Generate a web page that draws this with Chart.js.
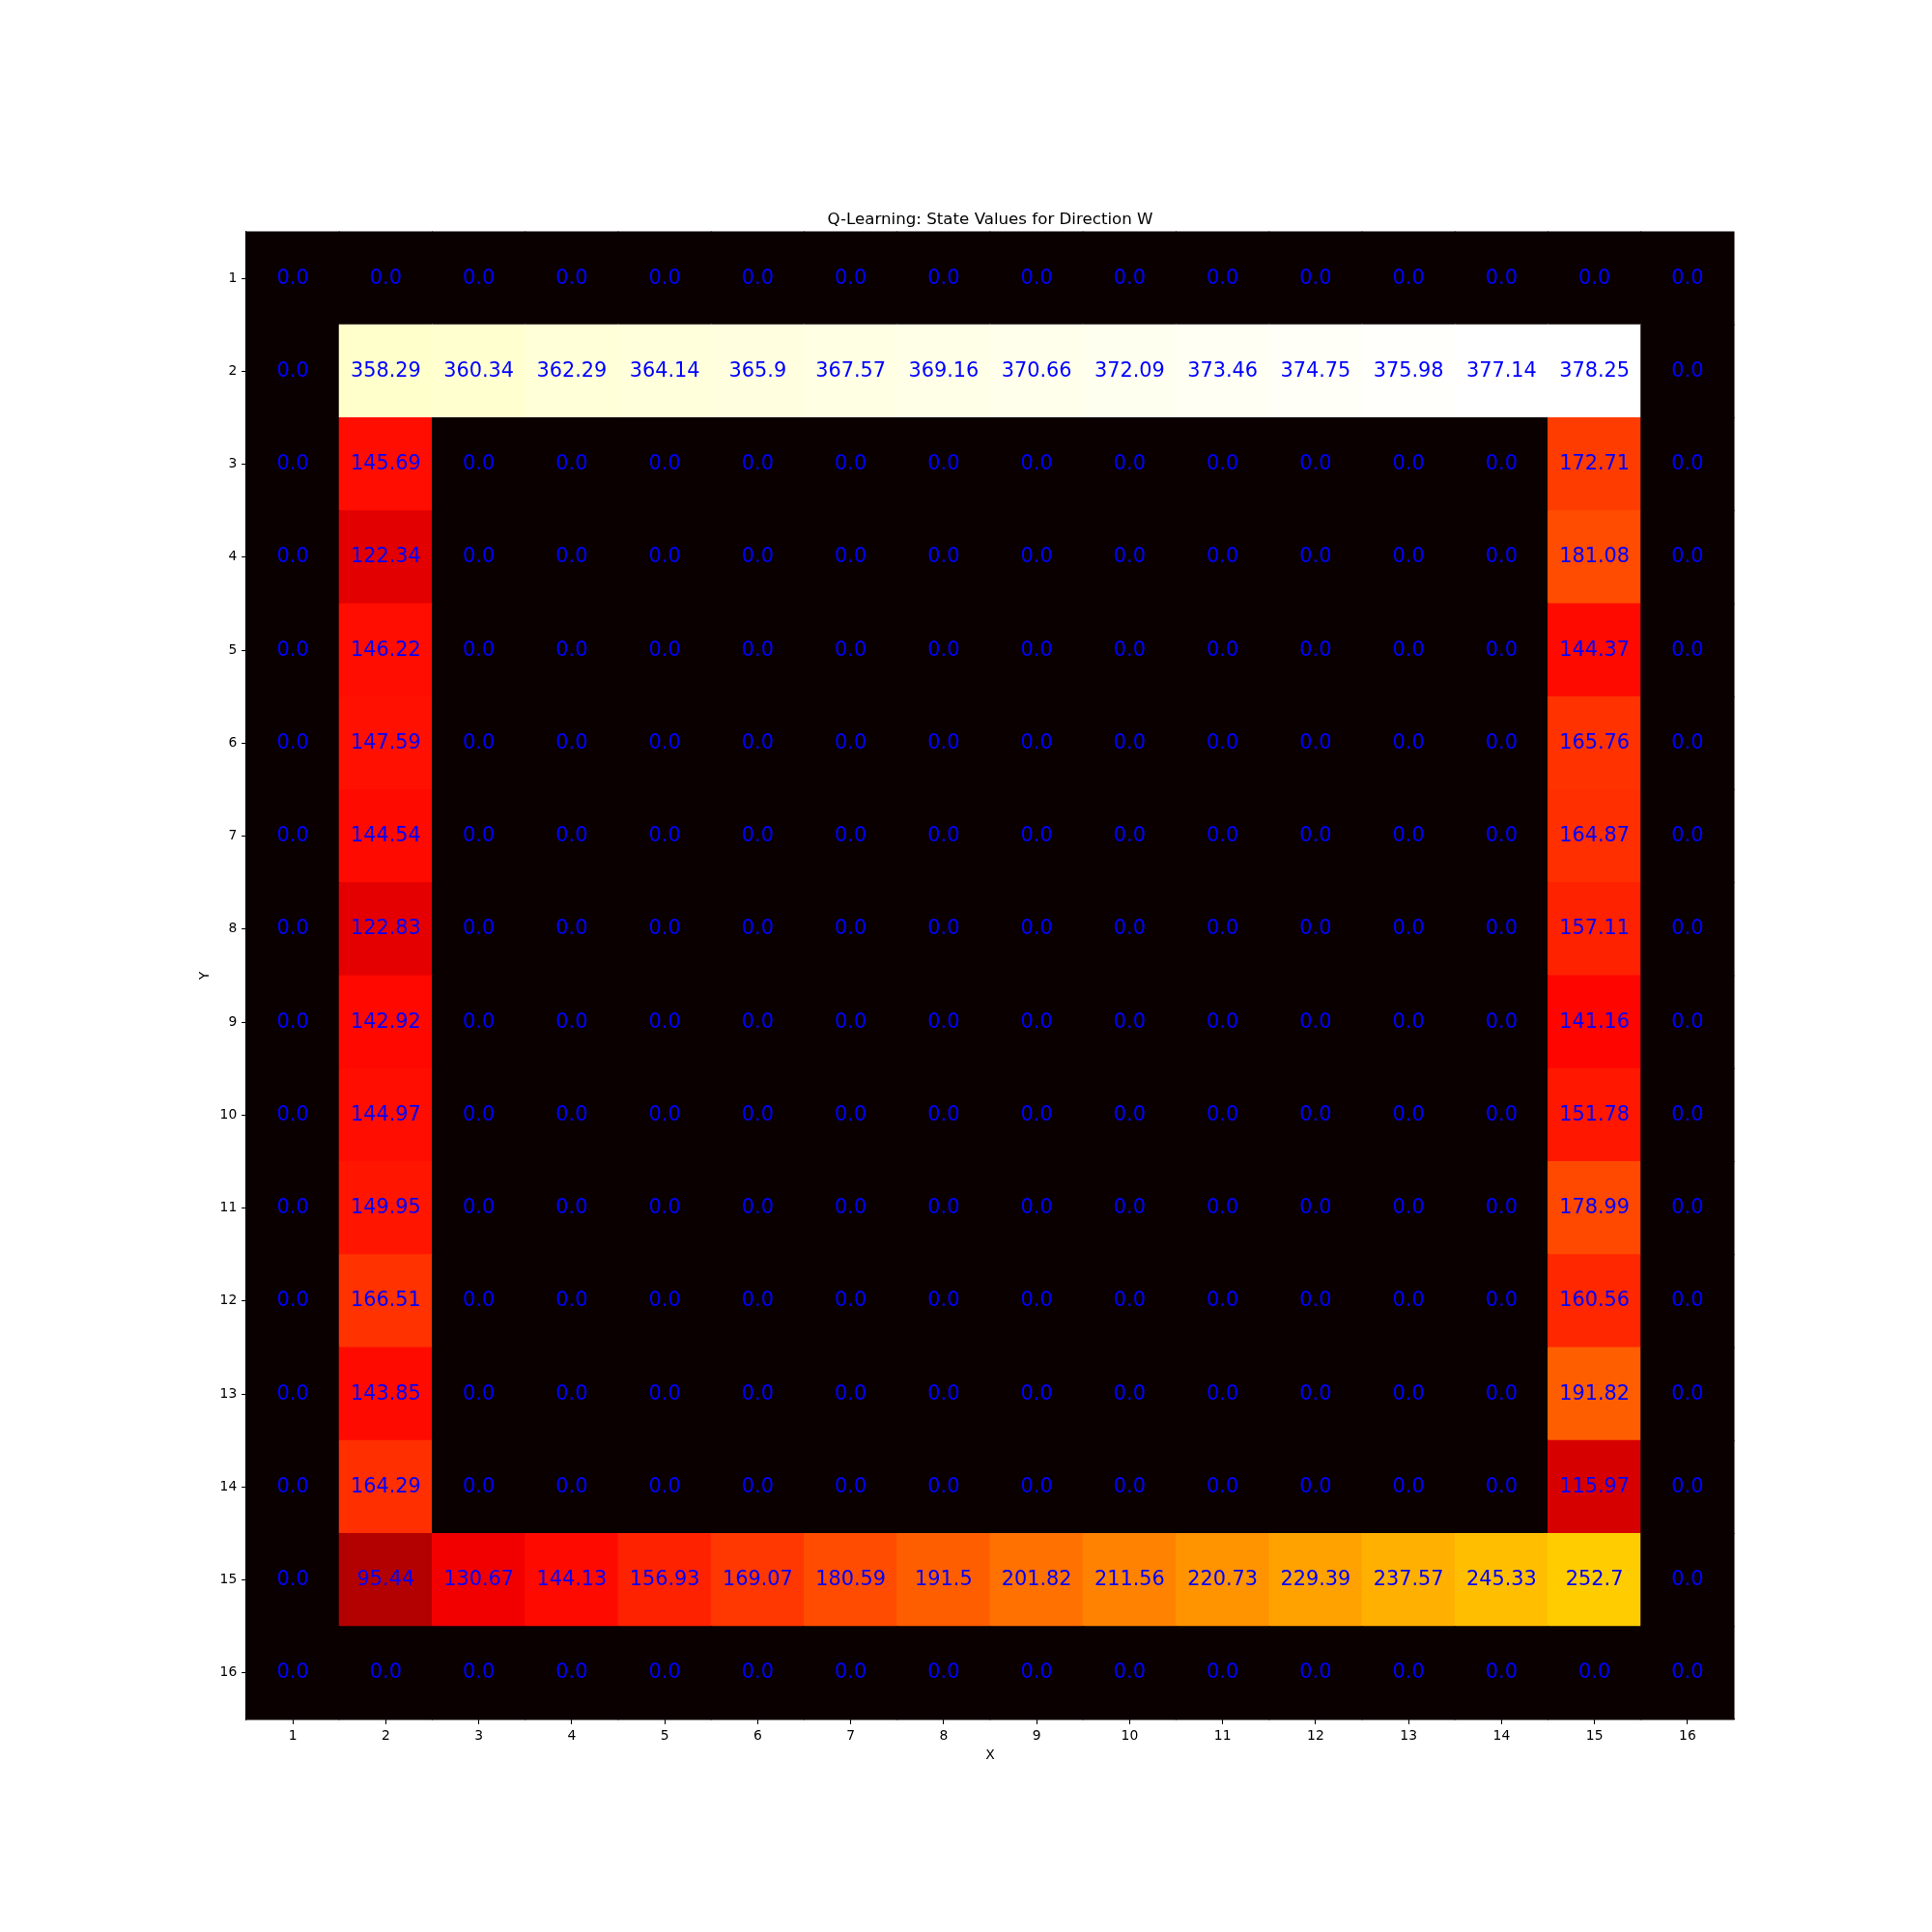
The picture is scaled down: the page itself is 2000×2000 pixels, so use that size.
<!DOCTYPE html>
<html>
<head>
<meta charset="utf-8">
<script src="https://cdn.jsdelivr.net/npm/chart.js@4.4.1/dist/chart.umd.min.js"></script>
<style>
  html, body { margin: 0; padding: 0; background: #ffffff; }
  #wrap { width: 2000px; height: 2000px; }
</style>
</head>
<body>
<div id="wrap"><canvas id="c" width="2000" height="2000"></canvas></div>
<script>
// ---- data ----
const xLabels = ['1','2','3','4','5','6','7','8','9','10','11','12','13','14','15','16'];
const yLabels = ['1','2','3','4','5','6','7','8','9','10','11','12','13','14','15','16'];
const row1  = [0,0,0,0,0,0,0,0,0,0,0,0,0,0,0,0];
const row2  = [0, 358.29, 360.34, 362.29, 364.14, 365.9, 367.57, 369.16, 370.66, 372.09, 373.46, 374.75, 375.98, 377.14, 378.25, 0];
const leftCol  = [145.69, 122.34, 146.22, 147.59, 144.54, 122.83, 142.92, 144.97, 149.95, 166.51, 143.85, 164.29]; // rows 3..14, x=2
const rightCol = [172.71, 181.08, 144.37, 165.76, 164.87, 157.11, 141.16, 151.78, 178.99, 160.56, 191.82, 115.97]; // rows 3..14, x=15
const row15 = [0, 95.44, 130.67, 144.13, 156.93, 169.07, 180.59, 191.5, 201.82, 211.56, 220.73, 229.39, 237.57, 245.33, 252.7, 0];
const row16 = [0,0,0,0,0,0,0,0,0,0,0,0,0,0,0,0];

// build grid (rows = y 1..16, cols = x 1..16)
const grid = [row1, row2];
for (let k = 0; k < leftCol.length; k++) {
  const r = new Array(16).fill(0);
  r[1] = leftCol[k];
  r[14] = rightCol[k];
  grid.push(r);
}
grid.push(row15, row16);

const vmin = 0;
const vmax = Math.max(...grid.map(r => Math.max(...r)));

function hot(v) {
  let t = (v - vmin) / (vmax - vmin);
  let idx = Math.floor(t * 256);
  if (idx > 255) idx = 255; if (idx < 0) idx = 0;
  const x = idx / 255;
  const cl = a => Math.max(0, Math.min(1, a));
  const r = cl(0.0416 + (1 - 0.0416) * x / 0.365079);
  const g = cl((x - 0.365079) / (0.746032 - 0.365079));
  const b = cl((x - 0.746032) / (1 - 0.746032));
  return `rgb(${Math.round(r*255)},${Math.round(g*255)},${Math.round(b*255)})`;
}
function fmt(v) {
  return Number.isInteger(v) ? v.toFixed(1) : String(v);
}

const FONT = '"DejaVu Sans", sans-serif';

const heatmapPlugin = {
  id: 'heatmap',
  beforeDatasetsDraw(chart) {
    const {ctx, scales: {x, y}} = chart;
    const cw = x.width / xLabels.length;
    const ch = y.height / yLabels.length;
    ctx.save();
    for (let i = 0; i < grid.length; i++) {
      for (let j = 0; j < grid[i].length; j++) {
        const cx = x.getPixelForValue(j);
        const cy = y.getPixelForValue(i);
        ctx.fillStyle = hot(grid[i][j]);
        ctx.fillRect(cx - cw / 2 - 0.5, cy - ch / 2 - 0.5, cw + 1, ch + 1);
      }
    }
    ctx.restore();
  },
  afterDatasetsDraw(chart) {
    const {ctx, scales: {x, y}} = chart;
    ctx.save();
    ctx.font = '20.83px ' + FONT;
    ctx.fillStyle = '#0000ff';
    ctx.textAlign = 'center';
    ctx.textBaseline = 'middle';
    for (let i = 0; i < grid.length; i++) {
      for (let j = 0; j < grid[i].length; j++) {
        ctx.fillText(fmt(grid[i][j]), x.getPixelForValue(j), y.getPixelForValue(i));
      }
    }
    ctx.restore();
  }
};

new Chart(document.getElementById('c'), {
  type: 'bar',
  data: { labels: xLabels, datasets: [{ data: [] }] },
  options: {
    responsive: false,
    animation: false,
    devicePixelRatio: 1,
    layout: { padding: { left: 0, right: 205, top: 0, bottom: 0 } },
    plugins: {
      legend: { display: false },
      tooltip: { enabled: false },
      title: {
        display: true,
        fullSize: false,
        text: 'Q-Learning: State Values for Direction W',
        color: '#000000',
        font: { family: FONT, size: 16.67, weight: 'normal', lineHeight: 1.2 },
        padding: { top: 218, bottom: 2 }
      }
    },
    scales: {
      x: {
        type: 'category',
        labels: xLabels,
        offset: true,
        grid: { display: true, drawOnChartArea: false, drawTicks: true, tickLength: 4.86, tickColor: '#000000', tickWidth: 1.1, offset: false },
        border: { display: true, color: '#000000', width: 1.1 },
        ticks: { color: '#000000', font: { family: FONT, size: 13.89 }, padding: 4.0, maxRotation: 0, autoSkip: false },
        title: { display: true, text: 'X', color: '#000000', font: { family: FONT, size: 13.89, lineHeight: 1.2 }, padding: { top: 0, bottom: 174 } },
        afterFit(s) { s.height = 220; }
      },
      y: {
        type: 'category',
        labels: yLabels,
        offset: true,
        grid: { display: true, drawOnChartArea: false, drawTicks: true, tickLength: 4.86, tickColor: '#000000', tickWidth: 1.1, offset: false },
        border: { display: true, color: '#000000', width: 1.1 },
        ticks: { color: '#000000', font: { family: FONT, size: 13.89 }, padding: 4.86, autoSkip: false },
        title: { display: true, text: 'Y', color: '#000000', font: { family: FONT, size: 13.89, lineHeight: 1.2 }, padding: { top: 204, bottom: 0 } },
        afterFit(s) { s.width = 255; }
      }
    }
  },
  plugins: [heatmapPlugin]
});
</script>
</body>
</html>
